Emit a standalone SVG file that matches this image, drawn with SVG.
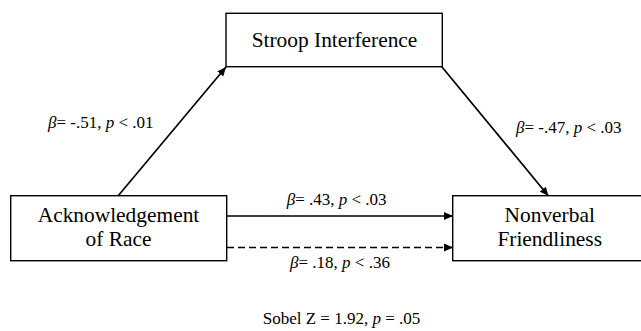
<svg xmlns="http://www.w3.org/2000/svg" width="641" height="331" viewBox="0 0 641 331">
<defs>
<marker id="arrow" markerUnits="userSpaceOnUse" markerWidth="9" markerHeight="9" viewBox="0 0 9 9" refX="9" refY="4.5" orient="auto">
<path d="M0,0.6 L9,4.5 L0,8.4 Z" fill="#000"/>
</marker>
</defs>
<style>
.box{fill:#fff;stroke:#000;stroke-width:1.4}
.node{font-family:"Liberation Serif","Times New Roman","DejaVu Serif",serif;font-size:21.4px;fill:#000;text-anchor:middle}
.lbl{font-family:"Liberation Serif","Times New Roman","DejaVu Serif",serif;font-size:17px;fill:#000}
.conn{stroke:#000;stroke-width:1.7;fill:none}
.dash{stroke-dasharray:7 4}
</style>
<rect width="641" height="331" fill="#fff"/>
<g id="connectors">
<line class="conn" x1="118" y1="196" x2="226" y2="67" marker-end="url(#arrow)"/>
<line class="conn" x1="442" y1="67" x2="548.5" y2="196" marker-end="url(#arrow)"/>
<line class="conn" x1="227" y1="216" x2="453" y2="216" marker-end="url(#arrow)"/>
<line class="conn dash" x1="227" y1="247.5" x2="453" y2="247.5" marker-end="url(#arrow)"/>
</g>
<g id="stroop">
<rect class="box" x="226" y="13.3" width="216.3" height="53.4"/>
<text class="node" x="334.5" y="46.7">Stroop Interference</text>
</g>
<g id="acknowledgement">
<rect class="box" x="10.7" y="195.7" width="216" height="65"/>
<text class="node" x="118.5" y="221.7">Acknowledgement</text>
<text class="node" x="118.5" y="245.7">of Race</text>
</g>
<g id="nonverbal">
<rect class="box" x="452.7" y="195.7" width="200" height="65"/>
<text class="node" x="549.7" y="221.7">Nonverbal</text>
<text class="node" x="549.7" y="245.7">Friendliness</text>
</g>
<g id="labels">
<text class="lbl" x="48" y="128.3"><tspan font-style="italic">β</tspan>= -.51, <tspan font-style="italic">p</tspan> &lt; .01</text>
<text class="lbl" x="516" y="133.3"><tspan font-style="italic">β</tspan>= -.47, <tspan font-style="italic">p</tspan> &lt; .03</text>
<text class="lbl" x="286.7" y="205"><tspan font-style="italic">β</tspan>= .43, <tspan font-style="italic">p</tspan> &lt; .03</text>
<text class="lbl" x="290" y="268.3"><tspan font-style="italic">β</tspan>= .18, <tspan font-style="italic">p</tspan> &lt; .36</text>
<text class="lbl" x="262.7" y="324">Sobel Z = 1.92, <tspan font-style="italic">p</tspan> = .05</text>
</g>
</svg>
